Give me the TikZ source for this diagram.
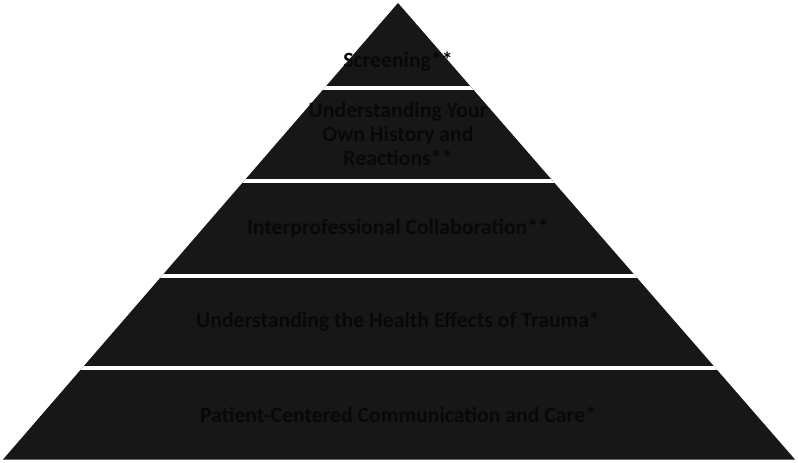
\documentclass[tikz,border=0pt]{standalone}
\usepackage{fontspec}
\setmainfont{Carlito}
\definecolor{layerfill}{HTML}{171717}
\definecolor{labeltext}{HTML}{080808}
\begin{document}
\begin{tikzpicture}[x=0.75pt,y=-0.75pt,
  label/.style={text=labeltext,font=\fontsize{16.3}{18}\selectfont\bfseries,align=center,inner sep=0pt},
  divider/.style={draw=white,line width=3pt}]
\useasboundingbox (0,0) rectangle (798,463);
\coordinate (apex) at (398,3);
\coordinate (bl) at (3,459.5);
\coordinate (br) at (795,459.5);
\fill[layerfill] (apex) -- (br) -- (bl) -- cycle;
\begin{scope}
  \clip (apex) -- (br) -- (bl) -- cycle;
  \foreach \yy in {88,181.5,275.5,368} {
    \draw[divider] (0,\yy) -- (798,\yy);
  }
\end{scope}
\node[label] (l1) at (398,62) {Screening**};
\node[label] (l2) at (398,134) {Understanding Your\\Own History and\\Reactions**};
\node[label] (l3) at (398,228) {Interprofessional Collaboration**};
\node[label] (l4) at (398,322) {Understanding the Health Effects of Trauma*};
\node[label] (l5) at (398,415) {Patient-Centered Communication and Care*};
\end{tikzpicture}
\end{document}
